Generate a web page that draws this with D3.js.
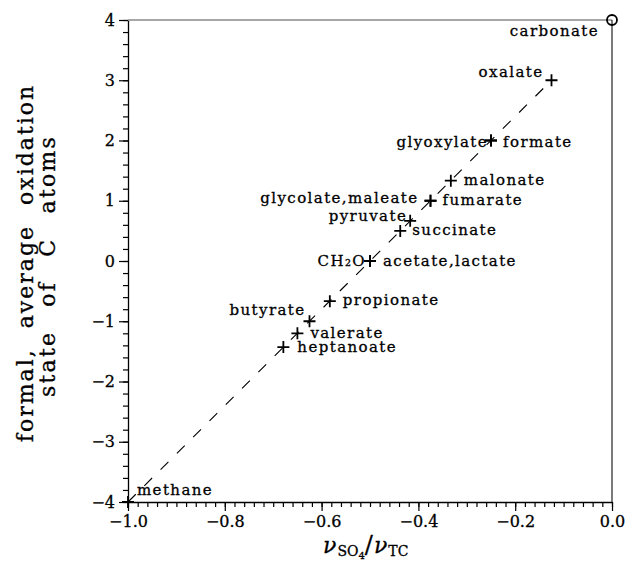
<!DOCTYPE html>
<html>
<head>
<meta charset="utf-8">
<script src="https://cdn.jsdelivr.net/npm/d3@7"></script>
<style>
  html, body { margin: 0; padding: 0; background: #fff; }
  svg { display: block; }
  text { font-family: "DejaVu Serif", "Liberation Serif", serif; fill: #000; stroke: #000; stroke-width: 0.3px; }
</style>
</head>
<body>
<svg id="chart" width="625" height="569"></svg>
<script>
// Compounds, their sulfate-to-carbon stoichiometric ratio and mean C oxidation state
const compounds = ["carbonate", "oxalate", "glyoxylate", "formate", "malonate",
  "glycolate,maleate", "fumarate", "pyruvate", "succinate", "CH₂O",
  "acetate,lactate", "propionate", "butyrate", "valerate", "heptanoate", "methane"];
const ratio = [0, -0.125, -0.25, -0.25, -0.333, -0.375, -0.375, -0.417, -0.4375,
  -0.5, -0.5, -0.583, -0.625, -0.65, -0.679, -1.0];
const oxState = [4, 3, 2, 2, 1.333, 1, 1, 0.667, 0.5, 0, 0, -0.667, -1, -1.2, -1.429, -4];

// Dashed reference line end points
const lineRatio = [-1.0, -0.125];
const lineOx = [-4, 3];

// Axis ticks
const xTicks = [-1.0, -0.8, -0.6, -0.4, -0.2, 0.0];
const yTicks = [-4, -3, -2, -1, 0, 1, 2, 3, 4];

// Label placement relative to each marker
const labelPlace = {
  "carbonate":         { anchor: "end",   dx: -13, dy: 16 },
  "oxalate":           { anchor: "end",   dx: -8,  dy: -3 },
  "glyoxylate":        { anchor: "end",   dx: -3,  dy: 6 },
  "formate":           { anchor: "start", dx: 12,  dy: 6 },
  "malonate":          { anchor: "start", dx: 13,  dy: 4.5 },
  "glycolate,maleate": { anchor: "end",   dx: -12, dy: 2.5 },
  "fumarate":          { anchor: "start", dx: 12,  dy: 4 },
  "pyruvate":          { anchor: "end",   dx: -3,  dy: 0 },
  "succinate":         { anchor: "start", dx: 12,  dy: 4.5 },
  "CH₂O":              { anchor: "end",   dx: -4,  dy: 4.5 },
  "acetate,lactate":   { anchor: "start", dx: 13,  dy: 4.5 },
  "propionate":        { anchor: "start", dx: 13,  dy: 4 },
  "butyrate":          { anchor: "end",   dx: -4,  dy: -6 },
  "valerate":          { anchor: "start", dx: 13,  dy: 5 },
  "heptanoate":        { anchor: "start", dx: 14,  dy: 5 },
  "methane":           { anchor: "start", dx: 9,   dy: -7 }
};

const svg = d3.select("#chart");
const plotL = 128, plotR = 612, plotT = 20, plotB = 502;

const x = d3.scaleLinear().domain([-1, 0]).range([plotL, plotR]);
const y = d3.scaleLinear().domain([-4, 4]).range([plotB, plotT]);

const fmtX = d3.format(".1f");

// Minor ticks
svg.append("g")
  .attr("transform", `translate(0,${plotB})`)
  .call(d3.axisBottom(x).tickValues(d3.range(-1, 0.0001, 0.02)).tickSize(5).tickSizeOuter(0).tickFormat(""))
  .call(g => g.select(".domain").remove());
svg.append("g")
  .attr("transform", `translate(${plotL},0)`)
  .call(d3.axisLeft(y).tickValues(d3.range(-4, 4.0001, 0.2)).tickSize(5).tickSizeOuter(0).tickFormat(""))
  .call(g => g.select(".domain").remove());

// Major ticks and labels
const xAxis = svg.append("g")
  .attr("transform", `translate(0,${plotB})`)
  .call(d3.axisBottom(x).tickValues(xTicks).tickSize(9).tickSizeOuter(0).tickPadding(5).tickFormat(fmtX));
const yAxis = svg.append("g")
  .attr("transform", `translate(${plotL},0)`)
  .call(d3.axisLeft(y).tickValues(yTicks).tickSize(9).tickSizeOuter(0).tickPadding(4).tickFormat(d3.format("d")));

[xAxis, yAxis].forEach(g => {
  g.selectAll("text").attr("font-size", 16).style("font-family", "DejaVu Serif, serif").attr("fill", "#000");
  g.select(".domain").attr("stroke", "#000").attr("stroke-width", 1.3);
});
svg.selectAll(".tick line").attr("stroke", "#000").attr("stroke-width", 1.2);

// Frame: top and right edges
svg.append("line").attr("x1", plotL).attr("x2", plotR).attr("y1", plotT).attr("y2", plotT)
  .attr("stroke", "#8a8a8a").attr("stroke-width", 1.4);
svg.append("line").attr("x1", plotR).attr("x2", plotR).attr("y1", plotT).attr("y2", plotB)
  .attr("stroke", "#333").attr("stroke-width", 1.3);

// Dashed reference line
const lineData = lineRatio.map((r, i) => [r, lineOx[i]]);
svg.append("path")
  .datum(lineData)
  .attr("d", d3.line().x(d => x(d[0])).y(d => y(d[1])))
  .attr("fill", "none").attr("stroke", "#000").attr("stroke-width", 1.1)
  .attr("stroke-dasharray", "11,12");

// Markers
const pts = compounds.map((c, i) => ({ name: c, r: ratio[i], ox: oxState[i] }));
const arm = 6;
svg.append("g").selectAll("path")
  .data(pts.filter(d => d.name !== "carbonate"))
  .join("path")
  .attr("d", d => {
    const cx = x(d.r), cy = y(d.ox);
    return `M${cx - arm},${cy}H${cx + arm}M${cx},${cy - arm}V${cy + arm}`;
  })
  .attr("stroke", "#000").attr("stroke-width", 1.8).attr("fill", "none");

svg.append("g").selectAll("circle")
  .data(pts.filter(d => d.name === "carbonate"))
  .join("circle")
  .attr("cx", d => x(d.r)).attr("cy", d => y(d.ox)).attr("r", 5)
  .attr("fill", "none").attr("stroke", "#000").attr("stroke-width", 1.8);

// Compound labels
svg.append("g").selectAll("text")
  .data(pts)
  .join("text")
  .attr("x", d => x(d.r) + labelPlace[d.name].dx)
  .attr("y", d => y(d.ox) + labelPlace[d.name].dy)
  .attr("text-anchor", d => labelPlace[d.name].anchor)
  .attr("font-size", 15)
  .attr("letter-spacing", 1.4)
  .text(d => d.name);

// Y axis title (two lines)
const yTitle = svg.append("g").attr("transform", "translate(0,263) rotate(-90)");
yTitle.append("text").attr("x", 0).attr("y", 33).attr("text-anchor", "middle")
  .attr("font-size", 22).attr("letter-spacing", 2).attr("word-spacing", 11)
  .text("formal, average oxidation");
yTitle.append("text").attr("x", -3).attr("y", 55).attr("text-anchor", "middle")
  .attr("font-size", 22).attr("letter-spacing", 2.2).attr("word-spacing", 15)
  .text("state of C atoms");

// X axis title: nu_SO4 / nu_TC
const xt = svg.append("text").attr("x", 323).attr("y", 553).attr("font-size", 22);
xt.append("tspan").attr("font-style", "italic").text("ν");
xt.append("tspan").attr("font-size", 14).attr("dy", 3).attr("dx", 1).text("SO");
xt.append("tspan").attr("font-size", 10).attr("dy", 3).text("4");
xt.append("tspan").attr("font-size", 24).attr("dy", -6).text("/");
xt.append("tspan").attr("font-style", "italic").attr("dx", 1).text("ν");
xt.append("tspan").attr("font-size", 14).attr("dy", 3).attr("dx", 1).text("TC");
</script>
</body>
</html>
